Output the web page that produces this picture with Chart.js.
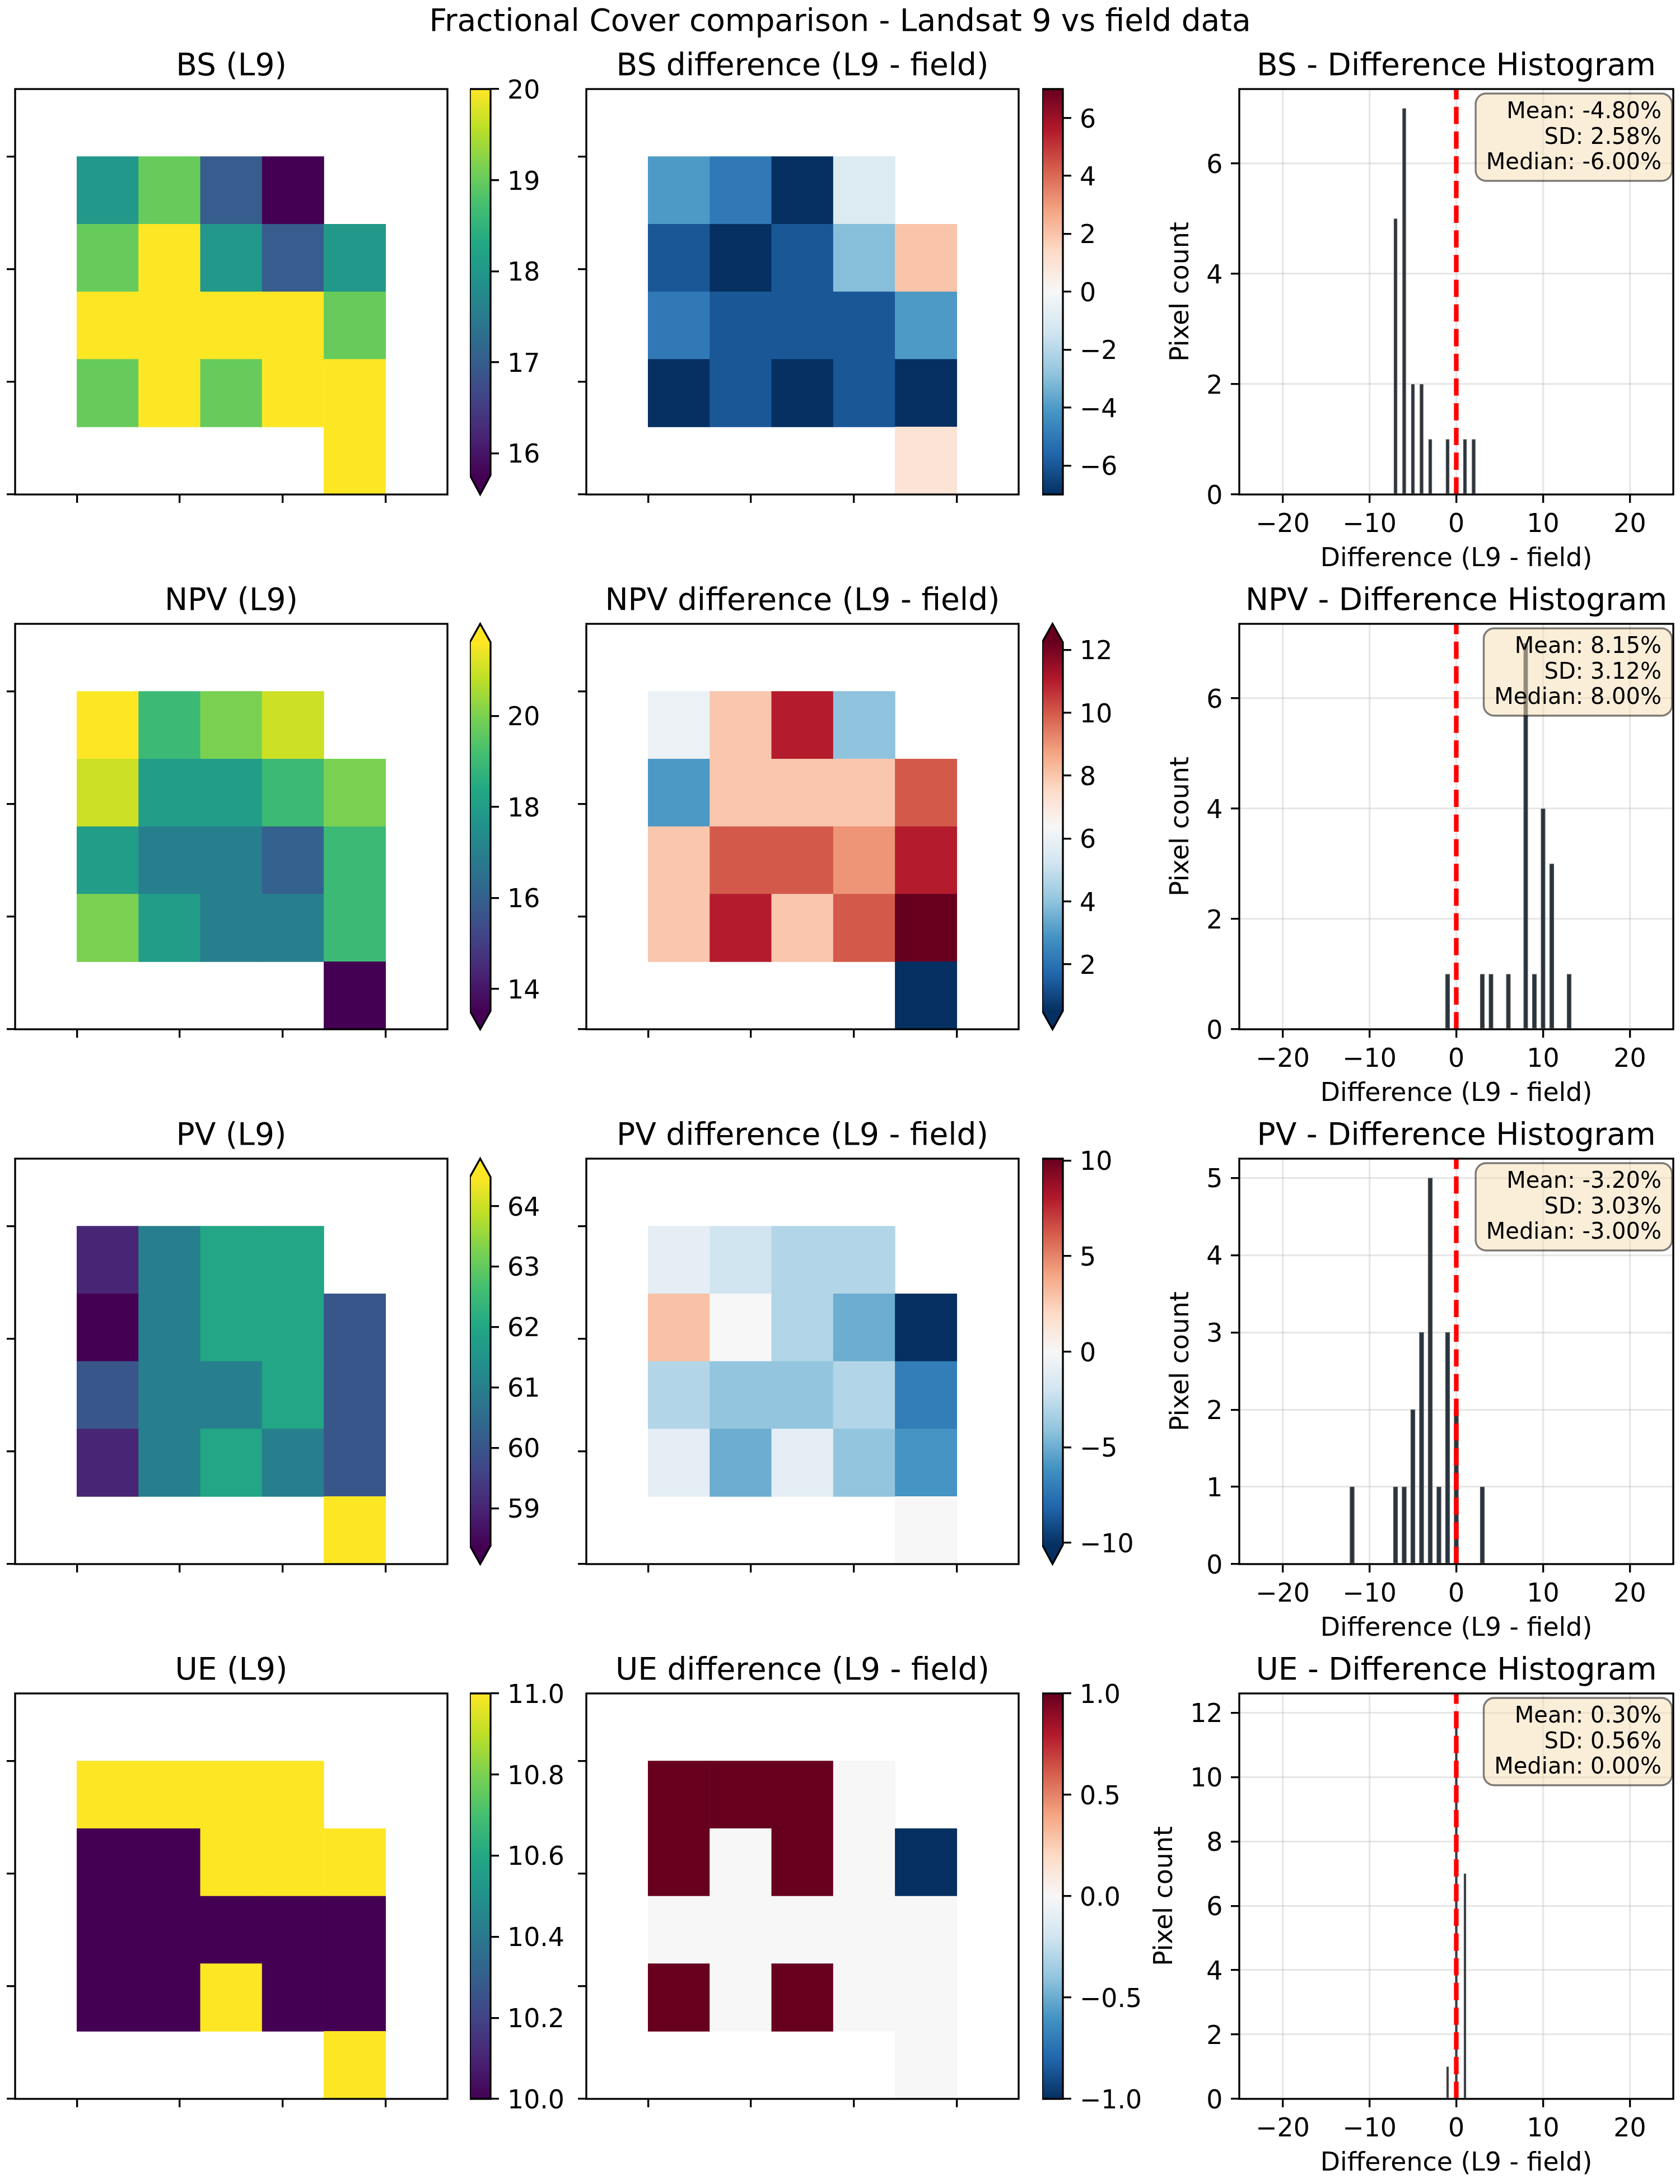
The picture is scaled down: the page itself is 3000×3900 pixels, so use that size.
<!DOCTYPE html>
<html>
<head>
<meta charset="utf-8">
<script src="https://cdn.jsdelivr.net/npm/chart.js@4.4.1/dist/chart.umd.min.js"></script>
<style>
html,body{margin:0;padding:0;background:#fff;}
#page{position:relative;width:3000px;height:3900px;background:#fff;overflow:hidden;}
#page canvas{position:absolute;}
#suptitle{position:absolute;left:0;top:3px;width:3000px;text-align:center;font-family:'DejaVu Sans',sans-serif;font-size:55px;line-height:66px;color:#000;white-space:nowrap;}
</style>
</head>
<body>
<div id="page"><div id="suptitle">Fractional Cover comparison - Landsat 9 vs field data</div></div>
<script>
// ---------------- DATA ----------------
const _ = null;
const GRID_ROWS = 6, GRID_COLS = 7;
const MAP_TICKS = [1, 2.667, 4.333, 6];

const BS_L9 = [
  [_,_,_,_,_,_,_],
  [_,18,19,17,15,_,_],
  [_,19,20,18,17,18,_],
  [_,20,20,20,20,19,_],
  [_,19,20,19,20,20,_],
  [_,_,_,_,_,20,_]];
const BS_DIFF = [
  [_,_,_,_,_,_,_],
  [_,-4,-5,-7,-1,_,_],
  [_,-6,-7,-6,-3,2,_],
  [_,-5,-6,-6,-6,-4,_],
  [_,-7,-6,-7,-6,-7,_],
  [_,_,_,_,_,1,_]];
const NPV_L9 = [
  [_,_,_,_,_,_,_],
  [_,22,19,20,21,_,_],
  [_,21,18,18,19,20,_],
  [_,18,17,17,16,19,_],
  [_,20,18,17,17,19,_],
  [_,_,_,_,_,12,_]];
const NPV_DIFF = [
  [_,_,_,_,_,_,_],
  [_,6,8,11,4,_,_],
  [_,3,8,8,8,10,_],
  [_,8,10,10,9,11,_],
  [_,8,11,8,10,13,_],
  [_,_,_,_,_,-1,_]];
const PV_L9 = [
  [_,_,_,_,_,_,_],
  [_,59,61,62,62,_,_],
  [_,58,61,62,62,60,_],
  [_,60,61,61,62,60,_],
  [_,59,61,62,61,60,_],
  [_,_,_,_,_,66,_]];
const PV_DIFF = [
  [_,_,_,_,_,_,_],
  [_,-1,-2,-3,-3,_,_],
  [_,3,0,-3,-5,-12,_],
  [_,-3,-4,-4,-3,-7,_],
  [_,-1,-5,-1,-4,-6,_],
  [_,_,_,_,_,0,_]];
const UE_L9 = [
  [_,_,_,_,_,_,_],
  [_,11,11,11,11,_,_],
  [_,10,10,11,11,11,_],
  [_,10,10,10,10,10,_],
  [_,10,10,11,10,10,_],
  [_,_,_,_,_,11,_]];
const UE_DIFF = [
  [_,_,_,_,_,_,_],
  [_,1,1,1,0,_,_],
  [_,1,0,1,0,-1,_],
  [_,0,0,0,0,0,_],
  [_,1,0,1,0,0,_],
  [_,_,_,_,_,0,_]];

// colour limits of each colour bar
const BS_L9_LIM = [15.76, 20],     BS_DIFF_LIM = [-7, 7];
const NPV_L9_LIM = [13.52, 21.62], NPV_DIFF_LIM = [0.52, 12.24];
const PV_L9_LIM = [58.38, 64.48],  PV_DIFF_LIM = [-10.1, 10.1];
const UE_L9_LIM = [10, 11],        UE_DIFF_LIM = [-1, 1];

// colour bar ticks
const BS_L9_TICKS = [16,17,18,19,20],      BS_DIFF_TICKS = [-6,-4,-2,0,2,4,6];
const NPV_L9_TICKS = [14,16,18,20],        NPV_DIFF_TICKS = [2,4,6,8,10,12];
const PV_L9_TICKS = [59,60,61,62,63,64],   PV_DIFF_TICKS = [-10,-5,0,5,10];
const UE_L9_TICKS = [10,10.2,10.4,10.6,10.8,11], UE_DIFF_TICKS = [-1,-0.5,0,0.5,1];

// histograms (difference value -> pixel count)
const BS_HIST_X = [-7,-6,-5,-4,-3,-1,1,2];        const BS_HIST_N = [5,7,2,2,1,1,1,1];
const NPV_HIST_X = [-1,3,4,6,8,9,10,11,13];       const NPV_HIST_N = [1,1,1,1,7,1,4,3,1];
const PV_HIST_X = [-12,-7,-6,-5,-4,-3,-2,-1,0,3]; const PV_HIST_N = [1,1,1,2,3,5,1,3,2,1];
const UE_HIST_X = [-1,0,1];                       const UE_HIST_N = [1,12,7];
const HIST_X_TICKS = [-20,-10,0,10,20];
const BS_HIST_Y_TICKS = [0,2,4,6], NPV_HIST_Y_TICKS = [0,2,4,6], PV_HIST_Y_TICKS = [0,1,2,3,4,5], UE_HIST_Y_TICKS = [0,2,4,6,8,10,12];

const BS_STATS = ['Mean: -4.80%','SD: 2.58%','Median: -6.00%'];
const NPV_STATS = ['Mean: 8.15%','SD: 3.12%','Median: 8.00%'];
const PV_STATS = ['Mean: -3.20%','SD: 3.03%','Median: -3.00%'];
const UE_STATS = ['Mean: 0.30%','SD: 0.56%','Median: 0.00%'];

// ---------------- STYLE / LAYOUT ----------------
const FONT = "'DejaVu Sans', sans-serif";
const LW = 3.33, TICK_FONT = 45.8, TITLE_FONT = 55, STATS_FONT = 40, YLAB_SHIFT = 5;
const ROW_TOP = [159, 1114, 2069, 3024];
const BOX_H = 724;
const MAP_LEFT = [27, 1047], MAP_W = 772;
const CB_LEFT = [839, 1861], CB_W = 37;
const HIST_LEFT = 2213, HIST_W = 775;
const VIRIDIS = ['#440154','#482475','#414487','#355f8d','#2a788e','#21918c','#22a884','#44bf70','#7ad151','#bddf26','#fde725'];
const RDBU_R = ['#053061','#2166ac','#4393c3','#92c5de','#d1e5f0','#f7f7f7','#fddbc7','#f4a582','#d6604d','#b2182b','#67001f'];

Chart.defaults.font.family = FONT;
Chart.defaults.color = '#000';

function rgbOf(h){const n=parseInt(h.slice(1),16);return [(n>>16)&255,(n>>8)&255,n&255];}
function cmap(stops,t){
  if(!(t>=0)) t=0; if(t>1) t=1;
  const n=stops.length-1; let i=Math.floor(t*n); if(i>=n) i=n-1;
  const f=t*n-i, a=rgbOf(stops[i]), b=rgbOf(stops[i+1]);
  return 'rgb('+a.map((v,k)=>Math.round(v+(b[k]-v)*f)).join(',')+')';
}
function fmt(v,dec){ const s=Math.abs(v).toFixed(dec); return (v<0?'\u2212':'')+s; }
const page = document.getElementById('page');
function makeCanvas(l,t,w,h){
  const c=document.createElement('canvas');
  c.width=Math.round(w); c.height=Math.round(h);
  c.style.left=Math.round(l)+'px'; c.style.top=Math.round(t)+'px';
  c.style.width=Math.round(w)+'px'; c.style.height=Math.round(h)+'px';
  page.appendChild(c); return c;
}
function tickGrid(onArea){
  return {display:true, offset:false, drawOnChartArea:onArea, drawTicks:true, tickLength:15, tickWidth:LW, tickColor:'#000',
          color:'rgba(176,176,176,0.3)', lineWidth:LW};
}
function titleOpts(text){
  return {display:true, text:text, fullSize:false, color:'#000',
          font:{family:FONT, size:TITLE_FONT, weight:'normal', lineHeight:1.2}, padding:{top:5,bottom:6}};
}
const framePlugin = {
  id:'frame',
  afterDatasetsDraw(chart){
    const a=chart.chartArea, ctx=chart.ctx;
    ctx.save(); ctx.lineWidth=LW; ctx.strokeStyle='#000';
    ctx.strokeRect(a.left,a.top,a.right-a.left,a.bottom-a.top); ctx.restore();
  }
};
const baseOpts = {devicePixelRatio:1, responsive:false, animation:false, events:[]};

function drawMap(left, top, grid, stops, lim, title){
  const mL=22, mB=22, mR=12, mT=77;
  const cv=makeCanvas(left-mL, top-mT, MAP_W+mL+mR, BOX_H+mT+mB);
  const pts=[], cols=[];
  grid.forEach((row,r)=>row.forEach((v,c)=>{
    if(v!==null){ pts.push({x:c+0.5, y:[r,r+1]}); cols.push(cmap(stops,(v-lim[0])/(lim[1]-lim[0]))); }
  }));
  new Chart(cv,{
    type:'bar',
    data:{datasets:[{data:pts, backgroundColor:cols, borderWidth:0, categoryPercentage:1, barPercentage:1}]},
    options:Object.assign({}, baseOpts, {
      layout:{padding:{left:0,right:mR,top:0,bottom:0}},
      plugins:{legend:{display:false}, tooltip:{enabled:false}, title:titleOpts(title)},
      scales:{
        x:{type:'linear', offset:false, min:0, max:GRID_COLS, afterBuildTicks:s=>{s.ticks=MAP_TICKS.map(v=>({value:v}));},
           afterFit:s=>{s.height=mB;}, ticks:{display:false}, grid:tickGrid(false), border:{display:false}},
        y:{type:'linear', offset:false, min:0, max:GRID_ROWS, reverse:true, afterBuildTicks:s=>{s.ticks=MAP_TICKS.map(v=>({value:v}));},
           afterFit:s=>{s.width=mL;}, ticks:{display:false}, grid:tickGrid(false), border:{display:false}}
      }
    }),
    plugins:[framePlugin]
  });
}

function drawCbar(left, top, stops, lim, ext, ticks, dec){
  const lab=175, pad=60;
  const nExt=(ext.min?1:0)+(ext.max?1:0);
  const interior=BOX_H/(1+0.05*nExt), tri=0.05*interior;
  const cv=makeCanvas(left, top-pad, CB_W+lab, BOX_H+2*pad);
  const cbPlugin={
    id:'cbdeco',
    afterDatasetsDraw(chart){
      const a=chart.chartArea, ctx=chart.ctx, cx=(a.left+a.right)/2;
      ctx.save();
      if(ext.max){ ctx.beginPath(); ctx.moveTo(a.left,a.top+0.5); ctx.lineTo(cx,a.top-tri); ctx.lineTo(a.right,a.top+0.5); ctx.closePath(); ctx.fillStyle=stops[stops.length-1]; ctx.fill(); }
      if(ext.min){ ctx.beginPath(); ctx.moveTo(a.left,a.bottom-0.5); ctx.lineTo(cx,a.bottom+tri); ctx.lineTo(a.right,a.bottom-0.5); ctx.closePath(); ctx.fillStyle=stops[0]; ctx.fill(); }
      ctx.beginPath();
      ctx.moveTo(a.left,a.top);
      if(ext.max) ctx.lineTo(cx,a.top-tri);
      ctx.lineTo(a.right,a.top);
      ctx.lineTo(a.right,a.bottom);
      if(ext.min) ctx.lineTo(cx,a.bottom+tri);
      ctx.lineTo(a.left,a.bottom);
      ctx.closePath();
      ctx.lineWidth=LW; ctx.strokeStyle='#000'; ctx.lineJoin='miter'; ctx.stroke();
      ctx.restore();
    }
  };
  new Chart(cv,{
    type:'bar',
    data:{labels:['cb'], datasets:[{data:[lim], borderWidth:0, categoryPercentage:1, barPercentage:1,
      backgroundColor:(c)=>{
        const a=c.chart.chartArea; if(!a) return stops[0];
        const g=c.chart.ctx.createLinearGradient(0,a.bottom,0,a.top);
        stops.forEach((s,i)=>g.addColorStop(i/(stops.length-1),s)); return g;
      }}]},
    options:Object.assign({}, baseOpts, {
      layout:{padding:{left:0,right:0,top:pad+(ext.max?tri:0),bottom:pad+(ext.min?tri:0)}},
      plugins:{legend:{display:false}, tooltip:{enabled:false}},
      scales:{
        x:{display:false},
        y:{type:'linear', position:'right', min:lim[0], max:lim[1],
           afterBuildTicks:s=>{s.ticks=ticks.map(v=>({value:v}));}, afterFit:s=>{s.width=lab;},
           ticks:{font:{family:FONT,size:TICK_FONT}, padding:15, labelOffset:YLAB_SHIFT, color:'#000', callback:(v)=>fmt(v,dec)},
           grid:tickGrid(false), border:{display:false}}
      }
    }),
    plugins:[cbPlugin]
  });
}

function drawHist(top, xs, ns, yTicks, stats, title, barW, ylabPad){
  const mL=200, mB=150, mR=10, mT=77;
  const cv=makeCanvas(HIST_LEFT-mL, top-mT, HIST_W+mL+mR, BOX_H+mT+mB);
  const ymax=Math.max(...ns)*1.05;
  const statsPlugin={
    id:'stats',
    afterDatasetsDraw(chart){
      const a=chart.chartArea, ctx=chart.ctx;
      ctx.save();
      ctx.font=STATS_FONT+'px '+FONT;
      const tw=Math.max(...stats.map(s=>ctx.measureText(s).width));
      const pad=18.75, tr=a.right-21;
      const x0=tr-tw-pad, x1=tr+pad, y0=a.top+8, y1=a.top+164, r=18.75;
      ctx.beginPath();
      ctx.moveTo(x0+r,y0); ctx.lineTo(x1-r,y0); ctx.arcTo(x1,y0,x1,y0+r,r);
      ctx.lineTo(x1,y1-r); ctx.arcTo(x1,y1,x1-r,y1,r);
      ctx.lineTo(x0+r,y1); ctx.arcTo(x0,y1,x0,y1-r,r);
      ctx.lineTo(x0,y0+r); ctx.arcTo(x0,y0,x0+r,y0,r); ctx.closePath();
      ctx.fillStyle='rgba(245,222,179,0.5)'; ctx.fill();
      ctx.lineWidth=LW; ctx.strokeStyle='rgba(0,0,0,0.5)'; ctx.stroke();
      ctx.fillStyle='#000'; ctx.textAlign='right'; ctx.textBaseline='alphabetic';
      stats.forEach((s,i)=>ctx.fillText(s,tr,a.top+52+i*45.5));
      ctx.restore();
    }
  };
  new Chart(cv,{
    type:'bar',
    data:{datasets:[
      {type:'line', data:[{x:0,y:0},{x:0,y:ymax}], borderColor:'#ff0000', borderWidth:8.3, borderDash:[30.8,13.3],
       pointRadius:0, fill:false, tension:0},
      {type:'bar', data:xs.map((x,i)=>({x:x,y:ns[i]})), backgroundColor:'#28343f',
       borderColor:'#4d4d4d', borderWidth:1.6, borderSkipped:false, barThickness:barW}
    ]},
    options:Object.assign({}, baseOpts, {
      layout:{padding:{left:0,right:mR,top:0,bottom:0}},
      plugins:{legend:{display:false}, tooltip:{enabled:false}, title:titleOpts(title)},
      scales:{
        x:{type:'linear', offset:false, min:-25, max:25, afterBuildTicks:s=>{s.ticks=HIST_X_TICKS.map(v=>({value:v}));},
           afterFit:s=>{s.height=mB;},
           ticks:{font:{family:FONT,size:TICK_FONT}, padding:13, maxRotation:0, autoSkip:false, color:'#000', callback:(v)=>fmt(v,0)},
           grid:tickGrid(true), border:{display:false},
           title:{display:true, text:'Difference (L9 - field)', color:'#000', font:{family:FONT,size:TICK_FONT,lineHeight:1.2}, padding:{top:0,bottom:6.5}}},
        y:{type:'linear', offset:false, min:0, max:ymax, afterBuildTicks:s=>{s.ticks=yTicks.map(v=>({value:v}));},
           afterFit:s=>{s.width=mL;},
           ticks:{font:{family:FONT,size:TICK_FONT}, padding:14.6, labelOffset:YLAB_SHIFT, autoSkip:false, color:'#000', callback:(v)=>fmt(v,0)},
           grid:tickGrid(true), border:{display:false},
           title:{display:true, text:'Pixel count', color:'#000', font:{family:FONT,size:TICK_FONT,lineHeight:1.2}, padding:{top:ylabPad,bottom:0}}}
      }
    }),
    plugins:[framePlugin, statsPlugin]
  });
}

// ---------------- BUILD ----------------
const ROWS = [
  {name:'BS',  l9:BS_L9,  diff:BS_DIFF,  l9Lim:BS_L9_LIM,  dLim:BS_DIFF_LIM,  l9Ext:{min:true,max:false}, dExt:{min:false,max:false},
   l9Ticks:BS_L9_TICKS, dTicks:BS_DIFF_TICKS, l9Dec:0, dDec:0, hx:BS_HIST_X, hn:BS_HIST_N, hy:BS_HIST_Y_TICKS, stats:BS_STATS, barW:6.1, ylabPad:69.5},
  {name:'NPV', l9:NPV_L9, diff:NPV_DIFF, l9Lim:NPV_L9_LIM, dLim:NPV_DIFF_LIM, l9Ext:{min:true,max:true}, dExt:{min:true,max:true},
   l9Ticks:NPV_L9_TICKS, dTicks:NPV_DIFF_TICKS, l9Dec:0, dDec:0, hx:NPV_HIST_X, hn:NPV_HIST_N, hy:NPV_HIST_Y_TICKS, stats:NPV_STATS, barW:7.7, ylabPad:69.5},
  {name:'PV',  l9:PV_L9,  diff:PV_DIFF,  l9Lim:PV_L9_LIM,  dLim:PV_DIFF_LIM,  l9Ext:{min:true,max:true}, dExt:{min:true,max:false},
   l9Ticks:PV_L9_TICKS, dTicks:PV_DIFF_TICKS, l9Dec:0, dDec:0, hx:PV_HIST_X, hn:PV_HIST_N, hy:PV_HIST_Y_TICKS, stats:PV_STATS, barW:8, ylabPad:69.5},
  {name:'UE',  l9:UE_L9,  diff:UE_DIFF,  l9Lim:UE_L9_LIM,  dLim:UE_DIFF_LIM,  l9Ext:{min:false,max:false}, dExt:{min:false,max:false},
   l9Ticks:UE_L9_TICKS, dTicks:UE_DIFF_TICKS, l9Dec:1, dDec:1, hx:UE_HIST_X, hn:UE_HIST_N, hy:UE_HIST_Y_TICKS, stats:UE_STATS, barW:4, ylabPad:40.5}
];

ROWS.forEach((R,i)=>{
  const top=ROW_TOP[i];
  drawMap(MAP_LEFT[0], top, R.l9, VIRIDIS, R.l9Lim, R.name+' (L9)');
  drawCbar(CB_LEFT[0], top, VIRIDIS, R.l9Lim, R.l9Ext, R.l9Ticks, R.l9Dec);
  drawMap(MAP_LEFT[1], top, R.diff, RDBU_R, R.dLim, R.name+' difference (L9 - field)');
  drawCbar(CB_LEFT[1], top, RDBU_R, R.dLim, R.dExt, R.dTicks, R.dDec);
  drawHist(top, R.hx, R.hn, R.hy, R.stats, R.name+' - Difference Histogram', R.barW, R.ylabPad);
});
</script>
</body>
</html>
